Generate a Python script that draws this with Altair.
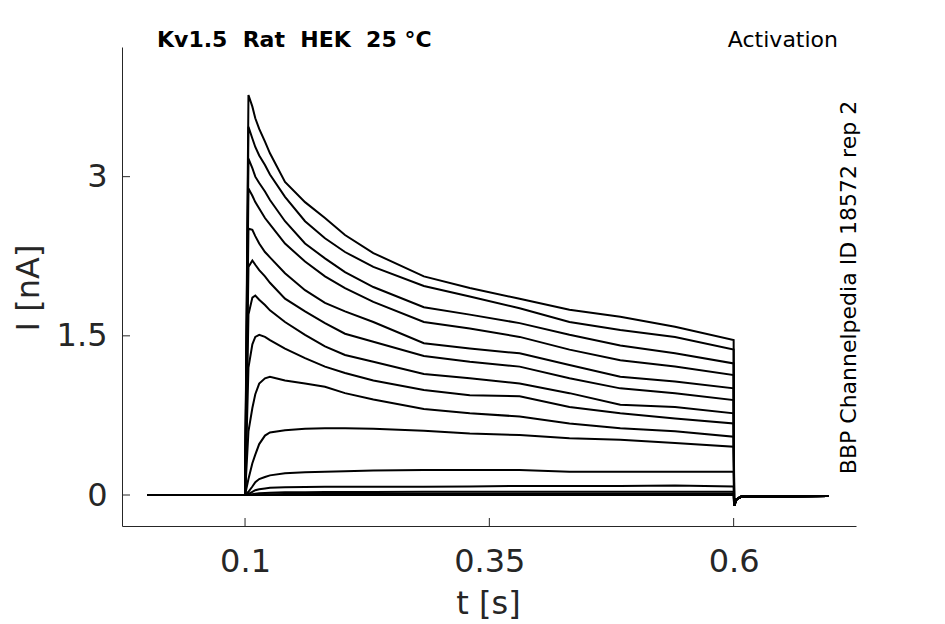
import altair as alt
import pandas as pd

# ---- time base (s) ----
t_pre = [0.0]
t_pulse = [0.1, 0.1035, 0.1075, 0.1105, 0.1145, 0.1204, 0.1255, 0.1409, 0.1614,
           0.1818, 0.2023, 0.2313, 0.283, 0.330, 0.381, 0.432, 0.484, 0.540, 0.600]
t_tail = [0.6005, 0.603, 0.608, 0.697]
i_pre = [0.0]
i_tail = [-0.10, -0.04, -0.015, -0.01]

# ---- current during the pulse (nA), one list per sweep ----
sweep_01 = [0, 3.77, 3.66, 3.55, 3.45, 3.33, 3.22, 2.95, 2.76, 2.61, 2.45, 2.28, 2.06, 1.95, 1.85, 1.745, 1.68, 1.585, 1.46]
sweep_02 = [0, 3.47, 3.36, 3.28, 3.20, 3.11, 3.02, 2.81, 2.58, 2.42, 2.29, 2.15, 1.97, 1.87, 1.76, 1.63, 1.555, 1.49, 1.37]
sweep_03 = [0, 3.17, 3.08, 3.00, 2.94, 2.86, 2.78, 2.58, 2.37, 2.23, 2.10, 1.96, 1.77, 1.70, 1.62, 1.51, 1.41, 1.335, 1.24]
sweep_04 = [0, 2.89, 2.82, 2.76, 2.70, 2.61, 2.55, 2.37, 2.20, 2.06, 1.95, 1.82, 1.63, 1.57, 1.49, 1.37, 1.27, 1.21, 1.13]
sweep_05 = [0, 2.51, 2.50, 2.44, 2.37, 2.29, 2.24, 2.09, 1.93, 1.81, 1.73, 1.63, 1.43, 1.38, 1.335, 1.225, 1.115, 1.07, 1.005]
sweep_06 = [0, 2.15, 2.21, 2.17, 2.12, 2.06, 2.00, 1.85, 1.73, 1.62, 1.52, 1.445, 1.31, 1.255, 1.21, 1.10, 1.005, 0.96, 0.895]
sweep_07 = [0, 1.70, 1.86, 1.88, 1.84, 1.79, 1.74, 1.63, 1.51, 1.40, 1.32, 1.255, 1.14, 1.10, 1.05, 0.96, 0.85, 0.83, 0.77]
sweep_08 = [0, 1.20, 1.42, 1.49, 1.51, 1.49, 1.46, 1.38, 1.29, 1.21, 1.15, 1.08, 0.99, 0.94, 0.93, 0.83, 0.77, 0.72, 0.675]
sweep_09 = [0, 0.60, 0.82, 0.95, 1.05, 1.10, 1.115, 1.08, 1.05, 1.02, 0.96, 0.90, 0.81, 0.77, 0.74, 0.675, 0.63, 0.60, 0.55]
sweep_10 = [0, 0.15, 0.30, 0.38, 0.48, 0.56, 0.59, 0.61, 0.625, 0.63, 0.63, 0.625, 0.605, 0.58, 0.565, 0.535, 0.52, 0.49, 0.455]
sweep_11 = [0, 0.03, 0.08, 0.12, 0.15, 0.17, 0.185, 0.205, 0.215, 0.22, 0.225, 0.23, 0.236, 0.236, 0.236, 0.22, 0.22, 0.22, 0.22]
sweep_12 = [0, 0.01, 0.03, 0.045, 0.055, 0.062, 0.068, 0.072, 0.075, 0.078, 0.078, 0.078, 0.078, 0.08, 0.085, 0.085, 0.085, 0.09, 0.08]
sweep_13 = [0, 0.003, 0.008, 0.012, 0.016, 0.02, 0.022, 0.025, 0.027, 0.028, 0.028, 0.028, 0.03, 0.03, 0.03, 0.03, 0.03, 0.03, 0.03]
sweep_14 = [0, 0.001, 0.003, 0.004, 0.006, 0.007, 0.008, 0.009, 0.01, 0.01, 0.01, 0.01, 0.012, 0.012, 0.012, 0.012, 0.012, 0.012, 0.012]
sweep_15 = [0, 0, 0, 0, 0, 0, 0, 0, 0, 0, 0, 0, 0, 0, 0, 0, 0, 0, 0]

sweeps = [sweep_01, sweep_02, sweep_03, sweep_04, sweep_05, sweep_06, sweep_07, sweep_08,
          sweep_09, sweep_10, sweep_11, sweep_12, sweep_13, sweep_14, sweep_15]

x_ticks = [0.1, 0.35, 0.6]
y_ticks = [0, 1.5, 3]

title_left = "Kv1.5\u00a0 Rat\u00a0 HEK\u00a0 25 °C"
title_right = "Activation"
side_text = "BBP Channelpedia ID 18572 rep 2"

# ---- long table ----
rows = []
for k, sw in enumerate(sweeps):
    ts = t_pre + t_pulse + t_tail
    vs = i_pre + sw + i_tail
    for j, (t, v) in enumerate(zip(ts, vs)):
        rows.append({"sweep": k, "order": j, "t": t, "I": v})
df = pd.DataFrame(rows)

W, H = 734, 479
xs = alt.Scale(domain=[-0.0259, 0.7252], nice=False, zero=False)
ys = alt.Scale(domain=[-0.292, 4.222], nice=False, zero=False)

lines = alt.Chart(df).mark_line(color="black", strokeWidth=2).encode(
    x=alt.X("t:Q", scale=xs, axis=alt.Axis(
        values=x_ticks, format="~g", title="t [s]", labelPadding=20,
        titleX=366, titleY=87, titleAlign="center", titleBaseline="alphabetic")),
    y=alt.Y("I:Q", scale=ys, axis=alt.Axis(
        values=y_ticks, format="~g", title="I [nA]", labelPadding=15,
        titleX=-83.7, titleY=240.5, titleAngle=270, titleAlign="center",
        titleBaseline="alphabetic")),
    detail="sweep:N",
    order="order:Q",
)

xtick_marks = alt.Chart(pd.DataFrame({"t": x_ticks})).mark_rule(
    color="#262626", strokeWidth=1).encode(
    x=alt.X("t:Q", scale=xs), y=alt.value(H), y2=alt.value(H - 8))

ytick_marks = alt.Chart(pd.DataFrame({"I": y_ticks})).mark_rule(
    color="#262626", strokeWidth=1).encode(
    y=alt.Y("I:Q", scale=ys), x=alt.value(0), x2=alt.value(8))

t1 = alt.Chart(pd.DataFrame({"s": [title_left]})).mark_text(
    font="DejaVu Sans", fontSize=22, fontWeight="bold", color="black",
    align="left", baseline="alphabetic").encode(
    text="s:N", x=alt.value(35), y=alt.value(-0.5))

t2 = alt.Chart(pd.DataFrame({"s": [title_right]})).mark_text(
    font="DejaVu Sans", fontSize=22, color="black",
    align="right", baseline="alphabetic").encode(
    text="s:N", x=alt.value(716), y=alt.value(-0.5))

t3 = alt.Chart(pd.DataFrame({"s": [side_text]})).mark_text(
    font="DejaVu Sans", fontSize=22, color="black", angle=270,
    align="center", baseline="alphabetic").encode(
    text="s:N", x=alt.value(734), y=alt.value(240.5))

chart = alt.layer(lines, xtick_marks, ytick_marks, t1, t2, t3).properties(
    width=W, height=H,
    autosize=alt.AutoSizeParams(type="none"),
    padding={"left": 114, "top": 39, "right": 80, "bottom": 96},
).configure_view(stroke=None).configure_axis(
    grid=False, tickSize=0, domainColor="#262626", domainWidth=1,
    labelFont="DejaVu Sans", labelFontSize=32, labelColor="#262626",
    titleFont="DejaVu Sans", titleFontSize=32, titleFontWeight="normal",
    titleColor="#262626",
)

chart.save("out.html", embed_options={"renderer": "svg", "actions": False})
